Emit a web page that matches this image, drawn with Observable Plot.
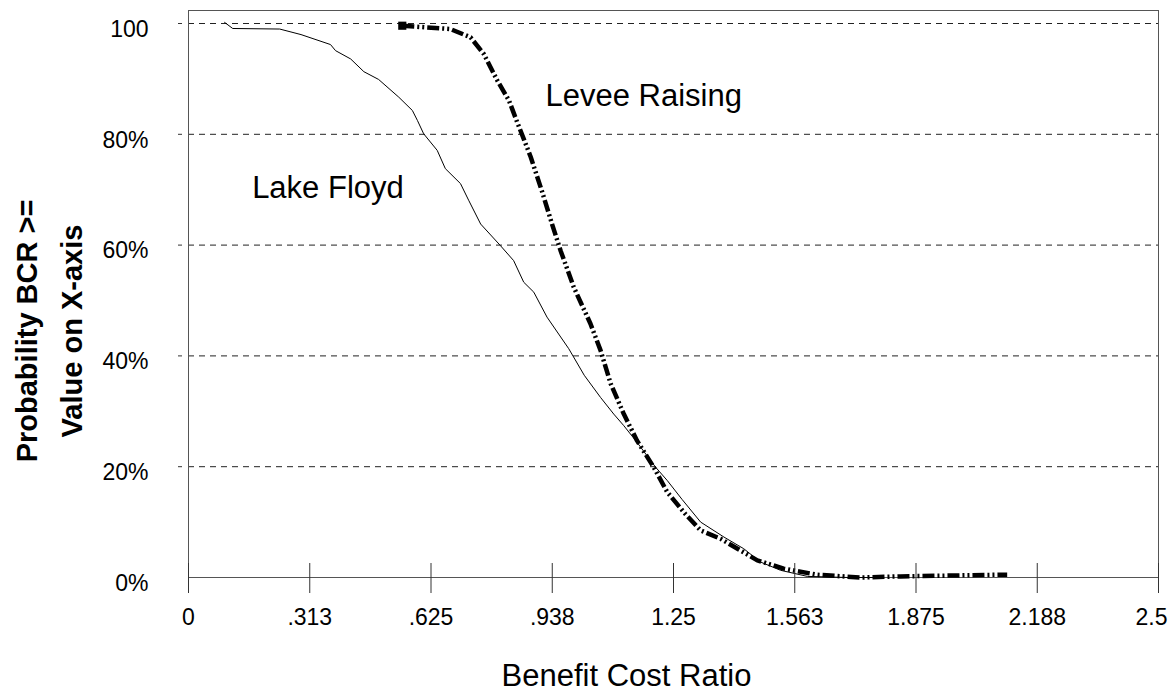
<!DOCTYPE html>
<html>
<head>
<meta charset="utf-8">
<script src="https://cdn.jsdelivr.net/npm/d3@7"></script>
<script src="https://cdn.jsdelivr.net/npm/@observablehq/plot@0.6"></script>
<style>
  html, body { margin: 0; padding: 0; background: #fff; }
  #chart svg { display: block; }
</style>
</head>
<body>
<div id="chart"></div>
<script>
// ---- Data ----
const lakeX = [0.093, 0.114, 0.235, 0.290, 0.366, 0.379, 0.418, 0.452, 0.490, 0.542, 0.577, 0.590, 0.606, 0.641, 0.662, 0.701, 0.722, 0.753, 0.804, 0.838, 0.864, 0.890, 0.924, 0.980, 1.020, 1.062, 1.096, 1.122, 1.156, 1.204, 1.234, 1.272, 1.320, 1.380, 1.431, 1.474, 1.526, 1.595, 1.700, 1.780];
const lakeY = [100.2, 99.1, 99.0, 98.0, 96.2, 95.1, 93.6, 91.3, 89.9, 86.7, 84.3, 82.5, 80.1, 77.1, 73.8, 71.1, 68.1, 63.8, 59.9, 57.2, 53.3, 51.5, 47.0, 41.3, 36.5, 32.5, 29.5, 27.4, 24.4, 19.9, 17.5, 14.1, 10.0, 7.3, 5.2, 2.8, 1.3, 0.2, 0.0, 0.0];

const leveeX = [0.551, 0.675, 0.727, 0.761, 0.796, 0.826, 0.847, 0.865, 0.882, 0.912, 0.937, 0.959, 0.993, 1.036, 1.062, 1.088, 1.122, 1.156, 1.199, 1.234, 1.280, 1.320, 1.371, 1.466, 1.534, 1.620, 1.732, 1.835, 2.093, 2.110];
const leveeY = [99.6, 99.0, 97.5, 94.5, 89.7, 86.1, 82.2, 79.0, 75.9, 69.5, 63.8, 59.0, 52.4, 45.8, 41.0, 35.0, 29.5, 24.7, 19.9, 15.4, 11.5, 8.5, 7.0, 3.1, 1.6, 0.5, 0.0, 0.2, 0.5, 0.5];

const xTicks = [0, 0.3125, 0.625, 0.9375, 1.25, 1.5625, 1.875, 2.1875, 2.5];
const xTickLabels = ["0", ".313", ".625", ".938", "1.25", "1.563", "1.875", "2.188", "2.5"];
const yTicks = [0, 20, 40, 60, 80, 100];
const yTickLabels = ["0%", "20%", "40%", "60%", "80%", "100"];
const gridValues = [20, 40, 60, 80, 100];

const seriesLabels = [
  {name: "Lake Floyd", x: 0.164, y: 70.3},
  {name: "Levee Raising", x: 0.920, y: 86.9}
];
const xTitle = "Benefit Cost Ratio";
const yTitle = "Probability BCR >=\nValue on X-axis";

// ---- Build ----
const lake = lakeX.map((x, i) => ({x, y: lakeY[i]}));
const levee = leveeX.map((x, i) => ({x, y: leveeY[i]}));
const lastTick = xTicks[xTicks.length - 1];
const labelOf = d => xTickLabels[xTicks.indexOf(d)];

const font = "'Liberation Sans', Arial, Helvetica, sans-serif";

const chart = Plot.plot({
  width: 1172,
  height: 692,
  marginLeft: 188,
  marginRight: 14,
  marginTop: 10,
  marginBottom: 115,
  style: {fontFamily: font, background: "#fff", color: "#000"},
  x: {domain: [0, 2.5]},
  y: {domain: [0, 100 * 567 / 554]},
  marks: [
    Plot.gridY(gridValues, {stroke: "#222", strokeOpacity: 1, strokeDasharray: "6,5"}),
    Plot.frame({stroke: "#555"}),
    Plot.line(lake, {x: "x", y: "y", stroke: "#000", strokeWidth: 1}),
    Plot.line(levee, {x: "x", y: "y", stroke: "#000", strokeWidth: 4.5, strokeDasharray: "12,3,2,3,2,3", strokeLinecap: "butt", strokeLinejoin: "round"}),
    Plot.dot(levee.slice(0, 1), {x: "x", y: "y", symbol: "square", r: 4.6, fill: "#000", stroke: "none"}),
    Plot.text(seriesLabels, {x: "x", y: "y", text: "name", textAnchor: "start", lineAnchor: "middle", fontSize: 31, fill: "#000"}),
    Plot.axisX(xTicks, {
      tickSize: 30, dy: -14, tickPadding: 15, fontSize: 23, stroke: "#333", fill: "#000",
      tickFormat: d => d === lastTick ? "" : labelOf(d), label: null
    }),
    Plot.axisX([lastTick], {
      tickSize: 0, tickPadding: 31, dx: -7, fontSize: 23, stroke: "none", fill: "#000",
      tickFormat: labelOf, label: null
    }),
    Plot.axisY(yTicks, {
      tickSize: 0, tickPadding: 40, dy: 6, fontSize: 23, fill: "#000",
      tickFormat: d => yTickLabels[yTicks.indexOf(d)], label: null
    }),
    Plot.axisY(gridValues, {
      tickSize: 10, tickFormat: () => "", stroke: "#333", strokeDasharray: "0,6,4", label: null
    }),
    Plot.text([xTitle], {frameAnchor: "bottom", textAnchor: "middle", lineAnchor: "middle", dy: 99, dx: -47, fontSize: 31, fill: "#000"}),
    Plot.text([yTitle], {frameAnchor: "left", textAnchor: "middle", lineAnchor: "middle", rotate: -90, dx: -143, dy: 37, fontSize: 29, fontWeight: "bold", lineHeight: 1.55, fill: "#000"})
  ]
});

document.getElementById("chart").appendChild(chart);
</script>
</body>
</html>
